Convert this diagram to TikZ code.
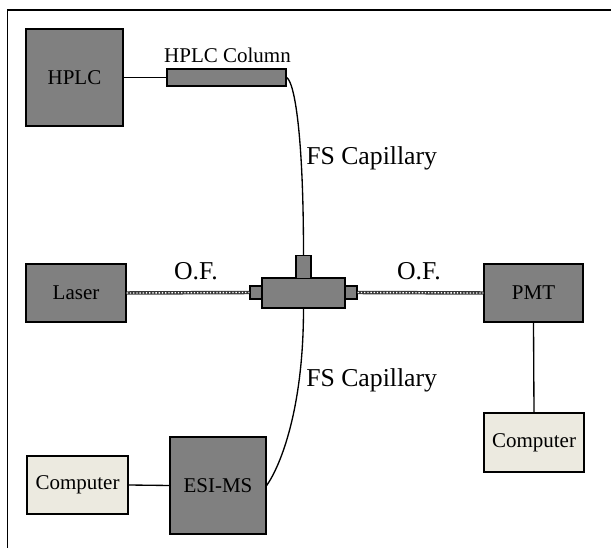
\documentclass[tikz,border=0pt]{standalone}
\usepackage{fontspec}
\setmainfont{Liberation Serif}
\definecolor{compbeige}{RGB}{236,234,224}
\definecolor{fibergray}{RGB}{55,55,55}
\tikzset{
  unit/.style={draw=black, line width=1pt, fill=gray, inner sep=0pt,
    font=\fontsize{15.75}{18}\selectfont},
  pcbox/.style={unit, fill=compbeige},
  size/.style 2 args={minimum width=#1*0.75pt, minimum height=#2*0.75pt},
  lbl/.style={inner sep=0pt, font=\fontsize{15.75}{18}\selectfont},
  biglbl/.style={inner sep=0pt, font=\fontsize{19.3}{22}\selectfont},
  wire/.style={line width=1pt},
  fiber/.style={line width=2.6pt, draw=fibergray,
    postaction={draw=white, line width=1pt, dash pattern=on 1pt off 1.4pt}}
}
\begin{document}
\begin{tikzpicture}[x=0.75pt,y=0.75pt,yscale=-1,xscale=1]
        \useasboundingbox (0,0) rectangle (611,548);
        % frame
        \draw [line width=1.1pt] (7.5,548) -- (7.5,10) -- (611,10);
        % instruments
        \node [unit, size={97}{97}] (hplc) at (74.5,77.5) {HPLC};
        \node [unit, size={119}{17}] (column) at (226.5,77.5) {};
        \node [unit, size={100}{58}] (laser) at (76,293) {Laser};
        \node [unit, size={99}{58}] (pmt) at (533.5,293) {PMT};
        \node [pcbox, size={100}{59}] (pcright) at (534,442.5) {Computer};
        \node [unit, size={96}{97}] (esims) at (218,485.5) {ESI-MS};
        \node [pcbox, size={101}{58}] (pcleft) at (77.5,485) {Computer};
        % tee piece
        \node [unit, size={83}{30}] (tee) at (303.5,293) {};
        \node [unit, size={15}{23}] (teetop) at (303.5,267) {};
        \node [unit, size={12}{13}] (teeleft) at (256,292.5) {};
        \node [unit, size={12}{13}] (teeright) at (351,292.5) {};
        % labels
        \node [lbl, anchor=base] (collbl) at (227.5,63) {HPLC Column};
        \node [biglbl, anchor=base west] (caplbltop) at (306,165) {FS Capillary};
        \node [biglbl, anchor=base west] (caplblbot) at (306,387) {FS Capillary};
        \node [biglbl, anchor=base] (oflbll) at (196,280) {O.F.};
        \node [biglbl, anchor=base] (oflblr) at (419,280) {O.F.};
        % connections
        \draw [wire] (hplc.east) -- (column.west);
        \draw [wire] (column.east) .. controls +(8,5) and +(0,-120) .. (teetop.north);
        \draw [wire] (tee.south) .. controls +(0,100) and +(14,-20) .. (esims.east);
        \draw [wire] (pcleft.east) -- (esims.west);
        \draw [wire] (pmt.south) -- (pcright.north);
        \draw [fiber] (laser.east) -- (teeleft.west);
        \draw [fiber] (teeright.east) -- (pmt.west);
\end{tikzpicture}
\end{document}
